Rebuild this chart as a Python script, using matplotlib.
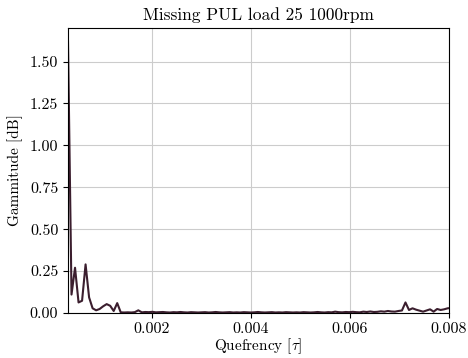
import numpy as np
import matplotlib
matplotlib.use('Agg')
import matplotlib.pyplot as plt

plt.rcParams['font.family'] = 'cmr10'
plt.rcParams['mathtext.fontset'] = 'cm'
plt.rcParams['axes.formatter.use_mathtext'] = True

# cepstrum magnitude, one value per quefrency bin
q0, dq = 0.000305, 7.1e-5
gammitude = [
    1.62, 0.11, 0.27, 0.063, 0.073, 0.29, 0.093, 0.028, 0.016, 0.024,
    0.040, 0.053, 0.043, 0.012, 0.059, 0.004, 0.003, 0.004, 0.003, 0.005,
    0.016, 0.004, 0.006, 0.005, 0.007, 0.004, 0.005, 0.006, 0.004, 0.003,
    0.005, 0.004, 0.006, 0.004, 0.003, 0.005, 0.004, 0.003, 0.004, 0.005,
    0.003, 0.004, 0.006, 0.004, 0.003, 0.004, 0.005, 0.003, 0.004, 0.003,
    0.005, 0.004, 0.003, 0.004, 0.006, 0.004, 0.003, 0.004, 0.005, 0.003,
    0.004, 0.003, 0.005, 0.004, 0.003, 0.004, 0.003, 0.005, 0.004, 0.003,
    0.004, 0.006, 0.004, 0.003, 0.005, 0.004, 0.008, 0.005, 0.004, 0.006,
    0.005, 0.007, 0.005, 0.004, 0.008, 0.006, 0.009, 0.006, 0.007, 0.010,
    0.008, 0.012, 0.009, 0.008, 0.012, 0.015, 0.063, 0.018, 0.028, 0.020,
    0.014, 0.008, 0.015, 0.022, 0.008, 0.024, 0.018, 0.022, 0.028, 0.030,
]
quefrency = q0 + dq*np.arange(len(gammitude))

fig = plt.figure(figsize=(4.68, 3.58), dpi=100)
ax = fig.add_axes([0.1453, 0.1257, 0.8141, 0.7961])
ax.plot(quefrency, gammitude, color='#3b1e2e', lw=1.5)
ax.set_xlim(q0, 0.008)
ax.set_ylim(0, 1.70)
ax.set_xticks([0.002, 0.004, 0.006, 0.008])
ax.set_yticks([0.0, 0.25, 0.5, 0.75, 1.0, 1.25, 1.5])
ax.set_yticklabels(['%.2f' % v for v in ax.get_yticks()])
ax.set_xticklabels(['%.3f' % v for v in ax.get_xticks()])
ax.grid(True, color='#cccccc', lw=0.8)
ax.set_axisbelow(True)
ax.tick_params(labelsize=11.5, pad=3.5)
ax.set_title('Missing PUL load 25 1000rpm', fontsize=12.5)
ax.set_xlabel(r'Quefrency [$\tau$]', fontsize=11, labelpad=0)
ax.set_ylabel('Gammitude [dB]', fontsize=11, labelpad=5)
fig.savefig('out.png', dpi=100)
